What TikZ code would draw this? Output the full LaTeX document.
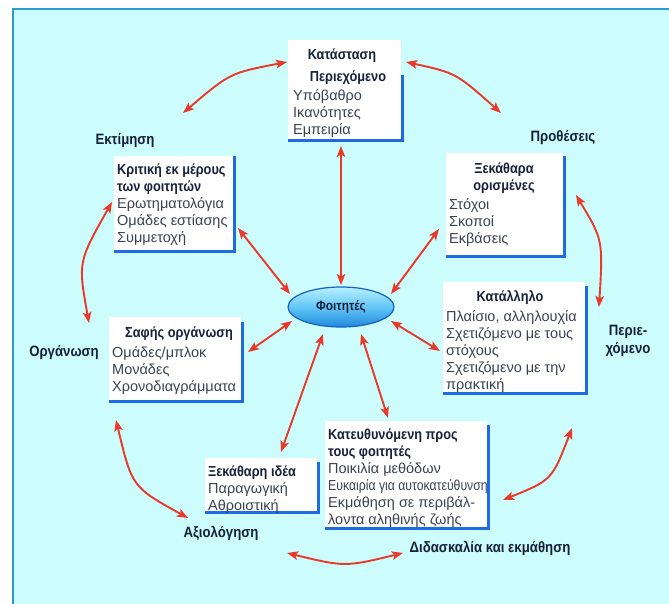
\documentclass[tikz,border=0pt]{standalone}
\usepackage{fontspec}
\usepackage{graphicx}
\setmainfont[BoldFeatures={FakeStretch=0.88}]{Liberation Sans}
\usetikzlibrary{arrows.meta,shapes.geometric}
\definecolor{bgcyan}{HTML}{CCFCFC}
\definecolor{framecol}{HTML}{2E9AD0}
\definecolor{boxblue}{HTML}{1F6BE3}
\definecolor{navy}{HTML}{16203A}
\definecolor{bodytext}{HTML}{3A4252}
\definecolor{arrred}{HTML}{E8392B}
\definecolor{ellTop}{HTML}{B8F0FF}
\definecolor{ellMid}{HTML}{62C6F6}
\definecolor{ellBot}{HTML}{2088DC}
\definecolor{ellLine}{HTML}{1461C0}
\begin{document}
\begin{tikzpicture}[x=1pt,y=-1pt,
  wbox/.style={draw=none,fill=white,inner sep=0pt,anchor=north west},
  bshadow/.style={draw=boxblue,line width=3pt},
  body/.style={inner sep=0pt,anchor=north west,align=left,font=\fontsize{14.5}{17}\selectfont,text=bodytext},
  ttl/.style={inner sep=0pt,font=\bfseries\fontsize{14.5}{17}\selectfont,text=navy},
  lbl/.style={inner sep=0pt,align=center,font=\bfseries\fontsize{15}{18.5}\selectfont,text=navy},
  arr/.style={draw=arrred,line width=1.9pt,{Stealth[length=11pt,width=8.5pt,inset=2.5pt]}-{Stealth[length=11pt,width=8.5pt,inset=2.5pt]}}
]
\useasboundingbox (0,0) rectangle (669,604);
\fill[white] (0,0) rectangle (669,604);
\fill[bgcyan] (12,8) rectangle (669,604);
\draw[framecol,line width=1.5pt] (13,604) -- (13,9) -- (669,9);

% Box 1 : Κατάσταση
\node[wbox,minimum width=113pt,minimum height=99pt] (b1) at (288,40) {};
\draw[bshadow] ([xshift=1.5pt,yshift=-35pt]b1.north east) -- ([xshift=1.5pt,yshift=-1.5pt]b1.south east) -- ([yshift=-1.5pt]b1.south west);
\node[ttl] (b1t1) at (342,56) {Κατάσταση};
\node[ttl] (b1t2) at (348,78) {Περιεχόμενο};
\node[body] (b1b) at (293,89) {\rule{0pt}{11pt}Υπόβαθρο\\Ικανότητες\\Εμπειρία};

% Box 2 : Κριτική
\node[wbox,minimum width=119pt,minimum height=94pt] (b2) at (114,156) {};
\draw[bshadow] ([xshift=1.5pt]b2.north east) -- ([xshift=1.5pt,yshift=-1.5pt]b2.south east) -- ([yshift=-1.5pt]b2.south west);
\node[body] (b2b) at (117,163) {\rule{0pt}{11pt}{\bfseries\color{navy}Κριτική εκ μέρους}\\{\bfseries\color{navy}των φοιτητών}\\Ερωτηματολόγια\\Ομάδες εστίασης\\Συμμετοχή};

% Box 3 : Ξεκάθαρα ορισμένες
\node[wbox,minimum width=117pt,minimum height=102pt] (b3) at (446,153) {};
\draw[bshadow] ([xshift=1.5pt,yshift=-3pt]b3.north east) -- ([xshift=1.5pt,yshift=-1.5pt]b3.south east) -- ([yshift=-1.5pt]b3.south west);
\node[ttl] (b3t1) at (504,170) {Ξεκάθαρα};
\node[ttl] (b3t2) at (504,187) {ορισμένες};
\node[body] (b3b) at (449,198) {\rule{0pt}{11pt}Στόχοι\\Σκοποί\\Εκβάσεις};

% Box 4 : Κατάλληλο
\node[wbox,minimum width=142pt,minimum height=110pt] (b4) at (443,282) {};
\draw[bshadow] ([xshift=1.5pt,yshift=-4pt]b4.north east) -- ([xshift=1.5pt,yshift=-1.5pt]b4.south east) -- ([yshift=-1.5pt]b4.south west);
\node[ttl] (b4t1) at (510,298) {Κατάλληλο};
\node[body] (b4b) at (446,310) {\rule{0pt}{11pt}Πλαίσιο, αλληλουχία\\Σχετιζόμενο με τους\\στόχους\\Σχετιζόμενο με την\\πρακτική};

% Box 5 : Σαφής οργάνωση
\node[wbox,minimum width=132pt,minimum height=83pt] (b5) at (109,317) {};
\draw[bshadow] ([xshift=1.5pt,yshift=-5pt]b5.north east) -- ([xshift=1.5pt,yshift=-1.5pt]b5.south east) -- ([yshift=-1.5pt]b5.south west);
\node[ttl] (b5t1) at (179,334) {Σαφής οργάνωση};
\node[body] (b5b) at (112,346) {\rule{0pt}{11pt}Ομάδες/μπλοκ\\Μονάδες\\Χρονοδιαγράμματα};

% Box 6 : Ξεκάθαρη ιδέα
\node[wbox,minimum width=112pt,minimum height=53pt] (b6) at (205,458) {};
\draw[bshadow] ([xshift=1.5pt,yshift=-4pt]b6.north east) -- ([xshift=1.5pt,yshift=-1.5pt]b6.south east) -- ([yshift=-1.5pt]b6.south west);
\node[body] (b6b) at (208,465) {\rule{0pt}{11pt}{\bfseries\color{navy}Ξεκάθαρη ιδέα}\\Παραγωγική\\Αθροιστική};

% Box 7 : Κατευθυνόμενη
\node[wbox,minimum width=162pt,minimum height=106pt] (b7) at (325,421) {};
\draw[bshadow] ([xshift=1.5pt,yshift=-4pt]b7.north east) -- ([xshift=1.5pt,yshift=-1.5pt]b7.south east) -- ([yshift=-1.5pt]b7.south west);
\node[body] (b7b) at (328,428) {\rule{0pt}{11pt}{\bfseries\color{navy}Κατευθυνόμενη προς}\\{\bfseries\color{navy}τους φοιτητές}\\Ποικιλία μεθόδων\\\scalebox{0.845}[1]{Ευκαιρία για αυτοκατεύθυνση}\\Εκμάθηση σε περιβάλ-\\λοντα αληθινής ζωής};

% Outer labels
\node[lbl] (lEkt) at (125,141) {Εκτίμηση};
\node[lbl] (lPro) at (563,138) {Προθέσεις};
\node[lbl] (lPer) at (628,341) {Περιε-\\χόμενο};
\node[lbl] (lOrg) at (64,353) {Οργάνωση};
\node[lbl] (lAxi) at (221,533) {Αξιολόγηση};
\node[lbl] (lDid) at (490,548) {Διδασκαλία και εκμάθηση};

% Centre ellipse
\node[ellipse,minimum width=106pt,minimum height=40pt,draw=ellLine,line width=1.2pt,
  top color=ellTop,bottom color=ellBot,middle color=ellMid,
  font=\bfseries\fontsize{13.5}{15}\selectfont,text=navy] (stud) at (341,307) {Φοιτητές};

% Arrow end points
\coordinate (o1a) at (287,62);  \coordinate (o1b) at (183,113);
\coordinate (o2a) at (406,62);  \coordinate (o2b) at (501,113);
\coordinate (o3a) at (576,195); \coordinate (o3b) at (599,307);
\coordinate (o4a) at (572,428); \coordinate (o4b) at (503,500);
\coordinate (o5a) at (403,553); \coordinate (o5b) at (287,553);
\coordinate (o6a) at (188,518); \coordinate (o6b) at (116,420);
\coordinate (o7a) at (89,323);  \coordinate (o7b) at (112,202);

\coordinate (r1a) at (341,146); \coordinate (r1b) at (341,285);
\coordinate (r2a) at (238,228); \coordinate (r2b) at (290,294);
\coordinate (r3a) at (439,229); \coordinate (r3b) at (391,294);
\coordinate (r4a) at (391,321); \coordinate (r4b) at (440,351);
\coordinate (r5a) at (292,321); \coordinate (r5b) at (248,352);
\coordinate (r6a) at (323,334); \coordinate (r6b) at (281,452);
\coordinate (r7a) at (361,334); \coordinate (r7b) at (388,418);

% Outer cycle
\draw[arr] (o1a) .. controls (230,73) .. (o1b);
\draw[arr] (o2a) .. controls (456,73) .. (o2b);
\draw[arr] (o3a) .. controls (603,240) .. (o3b);
\draw[arr] (o4a) .. controls (552,480) .. (o4b);
\draw[arr] (o5a) .. controls (345,567) .. (o5b);
\draw[arr] (o6a) .. controls (132,487) .. (o6b);
\draw[arr] (o7a) .. controls (78,262) .. (o7b);

% Radial arrows
\draw[arr] (r1a) -- (r1b);
\draw[arr] (r2a) -- (r2b);
\draw[arr] (r3a) -- (r3b);
\draw[arr] (r4a) -- (r4b);
\draw[arr] (r5a) -- (r5b);
\draw[arr] (r6a) -- (r6b);
\draw[arr] (r7a) -- (r7b);
\end{tikzpicture}
\end{document}
